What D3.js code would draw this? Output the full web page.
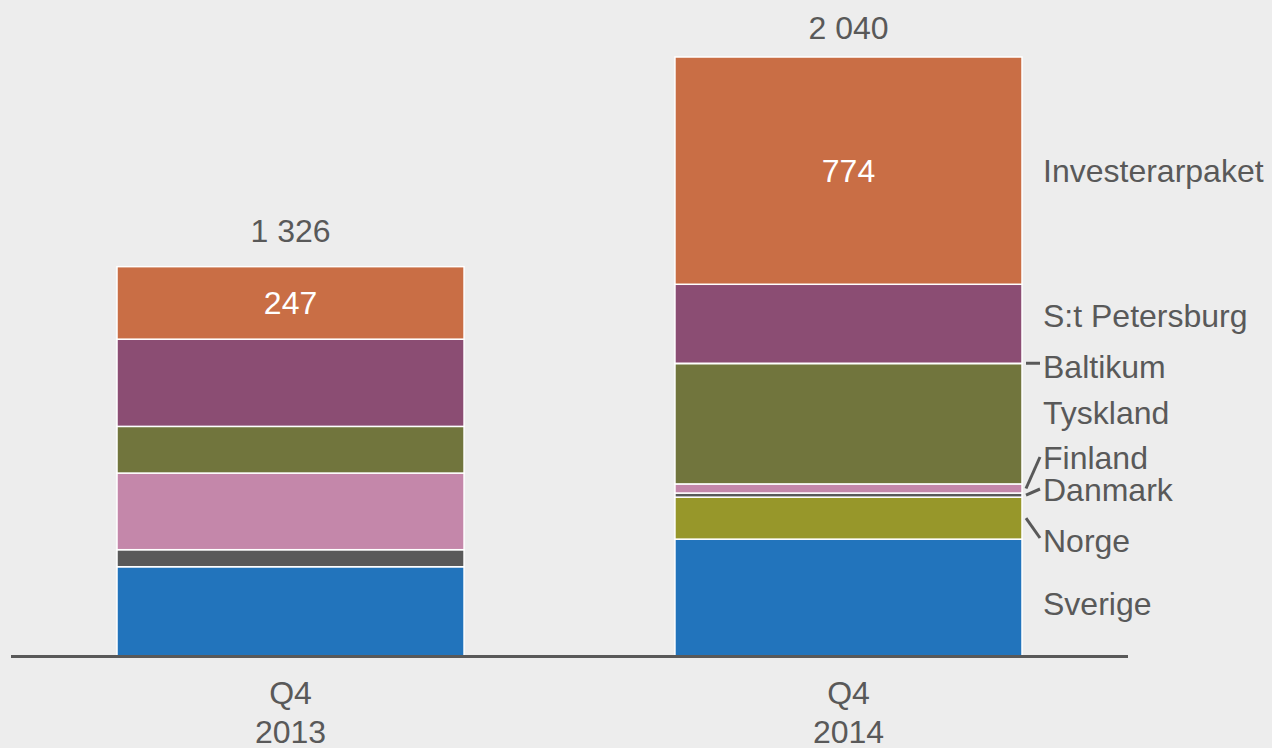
<!DOCTYPE html>
<html>
<head>
<meta charset="utf-8">
<script src="https://cdn.jsdelivr.net/npm/d3@7"></script>
<style>
  body { margin: 0; background: #ededed; }
  text { font-family: "Liberation Sans", Arial, sans-serif; fill: #595959; }
</style>
</head>
<body>
<svg></svg>
<script>
// data
var quarters = ["Q4 2013", "Q4 2014"];
var segments = ["Sverige", "Norge", "Danmark", "Finland", "Tyskland", "Baltikum", "S:t Petersburg", "Investerarpaket"];
var values2013 = [304, 0, 58, 261, 159, 0, 297, 247];
var values2014 = [398, 143, 14, 31, 410, 1, 269, 774];
var totals = [1326, 2040];
var totalLabels = ["1 326", "2 040"];

var colors = ["#2274bc", "#97972a", "#595959", "#c487aa", "#71753d", "#a5a5a5", "#8b4d73", "#c96e45"];

var svgWidth = 1272, svgHeight = 748, fontSize = 32;

// label centres on the right, in pixels (layout only)
var labelCenterY = {
  "Sverige": 603, "Norge": 540, "Danmark": 489, "Finland": 457,
  "Tyskland": 412, "Baltikum": 366, "S:t Petersburg": 315, "Investerarpaket": 170
};
var leaders = ["Norge", "Danmark", "Finland", "Baltikum"];

var svg = d3.select("svg")
            .attr("width", svgWidth)
            .attr("height", svgHeight);

var rows = quarters.map(function(q, i) {
  var vals = i === 0 ? values2013 : values2014;
  var row = {quarter: q};
  segments.forEach(function(s, j) { row[s] = vals[j]; });
  return row;
});

var stack = d3.stack().keys(segments)(rows);

var x = d3.scaleBand()
          .domain(quarters)
          .range([117, 1022])
          .paddingInner(0.378)
          .paddingOuter(0);

var y = d3.scaleLinear()
          .domain([0, 2040])
          .range([656, 57]);

var color = d3.scaleOrdinal().domain(segments).range(colors);

// stacked bars
var layer = svg.selectAll("g.layer")
               .data(stack)
               .enter()
               .append("g")
               .attr("class", "layer")
               .attr("fill", function(d) { return color(d.key); });

layer.selectAll("rect")
     .data(function(d) { return d; })
     .enter()
     .filter(function(d) { return d[1] - d[0] > 0; })
     .append("rect")
     .attr("x", function(d) { return x(d.data.quarter); })
     .attr("y", function(d) { return y(d[1]); })
     .attr("width", x.bandwidth())
     .attr("height", function(d) { return y(d[0]) - y(d[1]); })
     .attr("stroke", "#ffffff")
     .attr("stroke-width", 1.5);

// value inside the top segment
var topLayer = stack[stack.length - 1];
svg.selectAll("text.inner")
   .data(topLayer)
   .enter()
   .append("text")
   .attr("class", "inner")
   .attr("x", function(d) { return x(d.data.quarter) + x.bandwidth() / 2; })
   .attr("y", function(d) { return (y(d[0]) + y(d[1])) / 2 + 11.5; })
   .attr("text-anchor", "middle")
   .attr("font-size", fontSize)
   .style("fill", "#ffffff")
   .text(function(d) { return d[1] - d[0]; });

// totals above bars
svg.selectAll("text.total")
   .data(totals)
   .enter()
   .append("text")
   .attr("class", "total")
   .attr("x", function(d, i) { return x(quarters[i]) + x.bandwidth() / 2; })
   .attr("y", function(d) { return Math.max(39, y(d) - 25); })
   .attr("text-anchor", "middle")
   .attr("font-size", fontSize)
   .text(function(d, i) { return totalLabels[i]; });

// baseline
svg.append("line")
   .attr("x1", 11).attr("x2", 1128)
   .attr("y1", 656.5).attr("y2", 656.5)
   .attr("stroke", "#595959")
   .attr("stroke-width", 3);

// x axis labels (two lines)
var xAxis = svg.append("g")
               .attr("transform", "translate(0,656)")
               .call(d3.axisBottom(x).tickSize(0).tickFormat(""));
xAxis.select(".domain").remove();
xAxis.selectAll(".tick text").remove();
xAxis.selectAll(".tick")
     .append("text")
     .attr("text-anchor", "middle")
     .attr("font-size", fontSize)
     .selectAll("tspan")
     .data(function(d) { return d.split(" "); })
     .enter()
     .append("tspan")
     .attr("x", 0)
     .attr("y", function(d, i) { return 48 + i * 39; })
     .text(function(d) { return d; });

// segment labels on the right of the 2014 bar
var last = quarters[1];
var labelX = x(last) + x.bandwidth() + 21;

svg.selectAll("text.seg")
   .data(segments)
   .enter()
   .append("text")
   .attr("class", "seg")
   .attr("x", labelX)
   .attr("y", function(d) { return labelCenterY[d] + 11.5; })
   .attr("font-size", fontSize)
   .text(function(d) { return d; });

// leader lines for the thin segments
svg.selectAll("line.leader")
   .data(stack.filter(function(s) { return leaders.indexOf(s.key) >= 0; }))
   .enter()
   .append("line")
   .attr("class", "leader")
   .attr("x1", x(last) + x.bandwidth() + 4)
   .attr("x2", labelX - 3)
   .attr("y1", function(s) {
     var d = s[1];
     if (s.key === "Baltikum") return y(d[1]);
     return (y(d[0]) + y(d[1])) / 2;
   })
   .attr("y2", function(s) {
     if (s.key === "Baltikum") return y(s[1][1]);
     return labelCenterY[s.key] + (s.key === "Norge" ? -2 : 0);
   })
   .attr("stroke", "#595959")
   .attr("stroke-width", 3);
</script>
</body>
</html>
